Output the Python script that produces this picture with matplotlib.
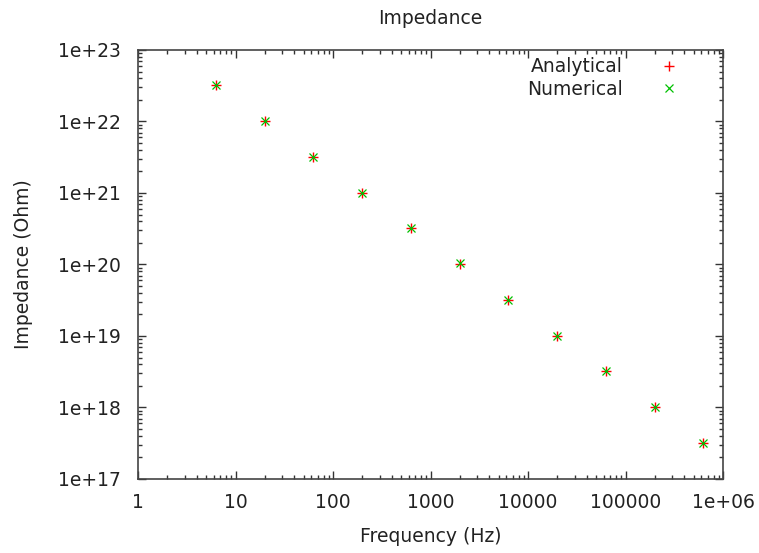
import matplotlib
matplotlib.use("Agg")
import matplotlib.pyplot as plt
import numpy as np

freq = [6.3, 20, 63, 200, 630, 2000, 6300, 20000, 63000, 200000, 630000]
analytical = [3.2e22, 1.0e22, 3.2e21, 1.0e21, 3.2e20, 1.0e20, 3.2e19, 1.0e19, 3.2e18, 1.0e18, 3.2e17]
numerical = [3.2e22, 1.0e22, 3.2e21, 1.0e21, 3.2e20, 1.06e20, 3.2e19, 1.0e19, 3.2e18, 1.0e18, 3.2e17]
xticks = [1, 10, 100, 1000, 10000, 100000, 1000000]
xticklabels = ["1", "10", "100", "1000", "10000", "100000", "1e+06"]
yticks = [1e17, 1e18, 1e19, 1e20, 1e21, 1e22, 1e23]
yticklabels = ["1e+17", "1e+18", "1e+19", "1e+20", "1e+21", "1e+22", "1e+23"]

FS = 13.5
plt.rcParams['font.family'] = ['DejaVu Sans']
fig = plt.figure(figsize=(7.59, 5.53), dpi=100)
ax = fig.add_axes([138/759, 1-479/553, (723-138)/759, (479-50)/553])
ax.set_xscale('log')
ax.set_yscale('log')
ax.set_xlim(1, 1e6)
ax.set_ylim(1e17, 1e23)

ax.plot(freq, analytical, linestyle='none', marker='+', color='#ff0000', ms=6.5, mew=1.0, label='Analytical')
ax.plot(freq, numerical, linestyle='none', marker='x', color='#00c000', ms=6, mew=0.9, label='Numerical')

ax.set_xticks(xticks)
ax.set_xticklabels(xticklabels)
ax.set_yticks(yticks)
ax.set_yticklabels(yticklabels)
ax.tick_params(which='both', direction='in', top=True, right=True, colors='#333333', labelcolor='#222222', labelsize=FS)
ax.tick_params(which='major', length=6, width=1)
ax.tick_params(which='minor', length=3, width=1)
ax.tick_params(axis='x', pad=10)
ax.tick_params(axis='y', pad=12)
for s in ax.spines.values():
    s.set_color('#444444')
    s.set_linewidth(1.2)

ax.set_xlabel('Frequency (Hz)', fontsize=FS, color='#222222', labelpad=11)
ax.set_ylabel('Impedance (Ohm)', fontsize=FS, color='#222222', labelpad=18)
ax.set_title('Impedance', fontsize=FS, color='#222222', pad=19)

leg = ax.legend(loc='upper right', frameon=False, markerfirst=False, fontsize=FS,
                handlelength=2.0, handletextpad=1.5, borderaxespad=0.0, labelspacing=0.17,
                bbox_to_anchor=(0.953, 1.0))
for t in leg.get_texts():
    t.set_color('#222222')

fig.savefig('out.png', dpi=100)
